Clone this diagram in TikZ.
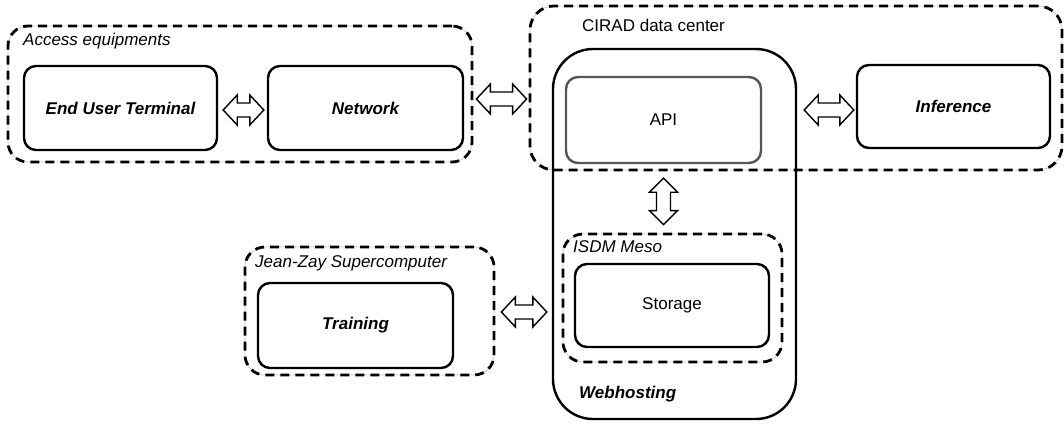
\documentclass[tikz,border=0pt]{standalone}
\usepackage{fontspec}
\setmainfont{Liberation Sans}
\usetikzlibrary{calc}
\definecolor{apigray}{HTML}{555555}
\tikzset{
  x=1pt, y=-1pt,
  txt/.style={font=\fontsize{17}{20}\selectfont, inner sep=0pt},
  solidbox/.style={draw, line width=2.4pt, rounded corners=12pt, inner sep=0pt, font=\fontsize{17}{20}\selectfont},
  dashbox/.style={draw, line width=2.8pt, dash pattern=on 9pt off 6pt, rounded corners=20pt, inner sep=0pt,
     preaction={draw=black!22, line width=0.7pt, solid}},
  hollowarrow/.style={draw, line width=1.4pt, fill=white, line join=miter},
  bi/.style={font=\fontsize{17}{20}\selectfont\bfseries\itshape},
}
\newcommand\myharrow[2]{%
  \draw[hollowarrow] let \p1=(#1), \p2=(#2) in
   (\x1,\y1) -- (\x1+14pt,\y1+15pt) -- (\x1+14pt,\y1+7pt) -- (\x2-14pt,\y1+7pt) -- (\x2-14pt,\y1+15pt)
   -- (\x2,\y1) -- (\x2-14pt,\y1-15pt) -- (\x2-14pt,\y1-7pt) -- (\x1+14pt,\y1-7pt) -- (\x1+14pt,\y1-15pt) -- cycle;}
\newcommand\myvarrow[2]{%
  \draw[hollowarrow] let \p1=(#1), \p2=(#2) in
   (\x1,\y1) -- (\x1+14pt,\y1-14pt) -- (\x1+7pt,\y1-14pt) -- (\x1+7pt,\y2+14pt) -- (\x1+14pt,\y2+14pt)
   -- (\x1,\y2) -- (\x1-14pt,\y2+14pt) -- (\x1-7pt,\y2+14pt) -- (\x1-7pt,\y1-14pt) -- (\x1-14pt,\y1-14pt) -- cycle;}
\begin{document}
\begin{tikzpicture}
\useasboundingbox (0,0) rectangle (1064,424);
% dashed groups
\node[dashbox, minimum width=464pt, minimum height=136pt] (access) at (240,94) {};
\node[dashbox, rounded corners=24pt, minimum width=532pt, minimum height=164pt] (cirad) at (796,88) {};
\node[dashbox, minimum width=249pt, minimum height=128pt] (jz) at (369.5,311) {};
% webhosting
\node[draw, line width=2.4pt, rounded corners=40pt, minimum width=243pt, minimum height=370pt, inner sep=0pt] (web) at (674.5,234) {};
\node[dashbox, minimum width=219pt, minimum height=128pt] (isdm) at (672.5,298) {};
% solid boxes
\node[solidbox, bi, minimum width=193pt, minimum height=84pt] (eut) at (120.5,108) {End User Terminal};
\node[solidbox, bi, minimum width=195pt, minimum height=84pt] (net) at (365.5,108) {Network};
\node[solidbox, draw=apigray, minimum width=195pt, minimum height=86pt] (api) at (663.5,120) {API};
\node[solidbox, bi, minimum width=193pt, minimum height=83pt] (inf) at (953.5,106.5) {Inference};
\node[solidbox, minimum width=194pt, minimum height=83pt] (sto) at (672,305.5) {Storage};
\node[solidbox, bi, minimum width=195pt, minimum height=85pt] (tr) at (355.5,325.5) {Training};
% labels
\node[txt, anchor=base west, font=\fontsize{17}{20}\selectfont\itshape] (lacc) at (23,45) {Access equipments};
\node[txt, anchor=base west] (lcir) at (582,31) {CIRAD data center};
\node[txt, anchor=base west, font=\fontsize{17}{20}\selectfont\itshape] (ljz) at (255,267) {Jean-Zay Supercomputer};
\node[txt, anchor=base west, font=\fontsize{17}{20}\selectfont\itshape] (lisdm) at (573,252) {ISDM Meso};
\node[txt, anchor=base west, bi] (lweb) at (579,398) {Webhosting};
% arrows
\coordinate (a1l) at ($(eut.east)+(5,2)$);
\coordinate (a1r) at ($(net.west)+(-3,2)$);
\myharrow{a1l}{a1r}
\coordinate (a2l) at ($(access.east)+(3,5)$);
\coordinate (a2r) at ($(cirad.west |- a2l)+(-2,0)$);
\myharrow{a2l}{a2r}
\coordinate (a3r) at ($(inf.west)+(-2,3.5)$);
\coordinate (a3l) at ($(web.east |- a3r)+(7,0)$);
\myharrow{a3l}{a3r}
\coordinate (a4l) at ($(jz.east)+(6,1)$);
\coordinate (a4r) at ($(web.west |- a4l)+(-5,0)$);
\myharrow{a4l}{a4r}
\coordinate (a5t) at ($(api.south)+(0,14)$);
\coordinate (a5b) at ($(api.south |- isdm.north)+(0,-8)$);
\myvarrow{a5t}{a5b}
\end{tikzpicture}
\end{document}
